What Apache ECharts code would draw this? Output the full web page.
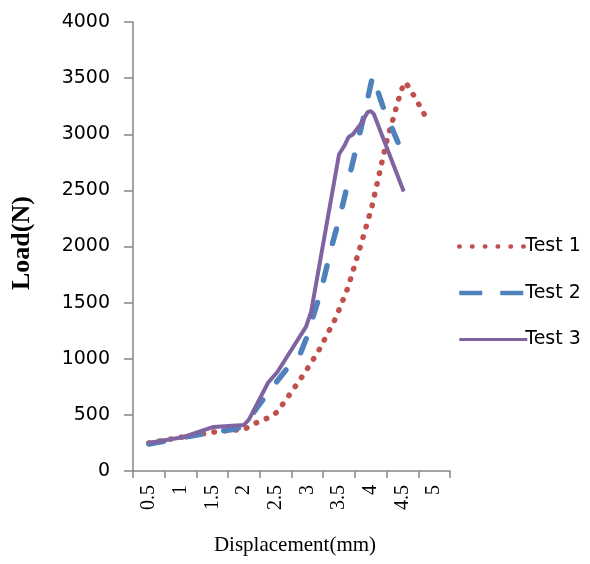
<!DOCTYPE html>
<html>
<head>
<meta charset="utf-8">
<script src="https://cdn.jsdelivr.net/npm/echarts@6/dist/echarts.min.js"></script>
<style>html,body{margin:0;padding:0;background:#fff}#c{width:590px;height:564px}</style>
</head>
<body>
<div id="c"></div>
<script>
var categories = ['0.5','1','1.5','2','2.5','3','3.5','4','4.5','5'];
var yTicks = [0, 500, 1000, 1500, 2000, 2500, 3000, 3500, 4000];
var seriesNames = ['Test 1', 'Test 2', 'Test 3'];
var test1 = [[0.5,250],[1.0,300],[1.5,345],[1.64,357],[2.0,370],[2.19,428],[2.38,473],[2.53,527],[2.63,610],[2.74,697],[2.96,875],[3.17,1063],[3.45,1366],[3.64,1634],[3.86,2045],[4.02,2358],[4.19,2786],[4.27,2983],[4.33,3090],[4.43,3295],[4.49,3402],[4.54,3465],[4.6,3420],[4.74,3286],[4.92,3099]];
var test2 = [[0.5,240],[1.0,295],[1.5,345],[1.85,372],[2.0,400],[2.2,560],[2.38,697],[2.69,920],[2.87,1018],[3.02,1232],[3.1,1393],[3.21,1590],[3.37,1973],[3.53,2304],[3.69,2688],[3.88,3134],[4.03,3518],[4.19,3250],[4.52,2804]];
var test3 = [[0.5,250],[1.05,303],[1.52,393],[2.0,410],[2.08,460],[2.38,786],[2.53,884],[2.98,1286],[3.06,1420],[3.5,2822],[3.58,2893],[3.65,2974],[3.72,3000],[3.84,3090],[3.95,3197],[4.0,3206],[4.05,3179],[4.52,2490]];

var chart = echarts.init(document.getElementById('c'));
var axisColor = '#868686';
chart.setOption({
  animation: false,
  backgroundColor: '#ffffff',
  grid: { left: 133, right: 140, top: 22, bottom: 93, containLabel: false },
  legend: {
    orient: 'vertical',
    left: 452, top: 232,
    itemWidth: 68, itemHeight: 16, itemGap: 27.5,
    itemStyle: { opacity: 0 },
    textStyle: { fontFamily: 'DejaVu Sans', fontSize: 19, color: '#000', padding: [0,0,0,-7] },
    data: [
      { name: seriesNames[0], lineStyle: { width: 4.5, type: [0.5, 12.3], cap: 'round' } },
      { name: seriesNames[1], lineStyle: { width: 4.5, type: [23, 18], cap: 'butt' } },
      { name: seriesNames[2], lineStyle: { width: 3 } }
    ]
  },
  xAxis: [{
    type: 'category',
    data: categories,
    boundaryGap: true,
    axisLine: { lineStyle: { color: axisColor, width: 1.5 } },
    axisTick: { show: true, alignWithLabel: false, length: 7, lineStyle: { color: axisColor, width: 1.5 } },
    axisLabel: { rotate: 90, margin: 14, fontFamily: 'Liberation Serif', fontSize: 20, color: '#000' },
    splitLine: { show: false }
  }, {
    type: 'value', min: 0.25, max: 5.25, show: false
  }],
  yAxis: {
    type: 'value', min: 0, max: 4000, interval: 500,
    axisLine: { show: true, lineStyle: { color: axisColor, width: 1.5 } },
    axisTick: { show: true, length: 9, lineStyle: { color: axisColor, width: 1.5 } },
    axisLabel: { margin: 23, fontFamily: 'DejaVu Sans', fontSize: 19, color: '#000',
      formatter: function (v) { return yTicks.indexOf(v) >= 0 ? String(v) : ''; } },
    splitLine: { show: false }
  },
  series: [{
    name: seriesNames[0], type: 'line', xAxisIndex: 1, data: test1,
    symbol: 'none', smooth: false, color: '#C0504D',
    lineStyle: { color: '#C0504D', width: 5.5, type: [0.5, 10.5], cap: 'round' }
  }, {
    name: seriesNames[1], type: 'line', xAxisIndex: 1, data: test2,
    symbol: 'none', color: '#4F81BD',
    lineStyle: { color: '#4F81BD', width: 5.5, type: [15, 23], cap: 'round' }
  }, {
    name: seriesNames[2], type: 'line', xAxisIndex: 1, data: test3,
    symbol: 'none', color: '#8064A2',
    lineStyle: { color: '#8064A2', width: 4 }
  }],
  graphic: [{
    type: 'text', left: 'center', x: 0, top: 535,
    style: { text: 'Displacement(mm)', font: '21px "Liberation Serif"', fill: '#000' }
  }, {
    type: 'text', rotation: Math.PI / 2, x: 9, y: 290,
    style: { text: 'Load(N)', font: 'bold 26px "Liberation Serif"', fill: '#000' }
  }]
});
</script>
</body>
</html>
